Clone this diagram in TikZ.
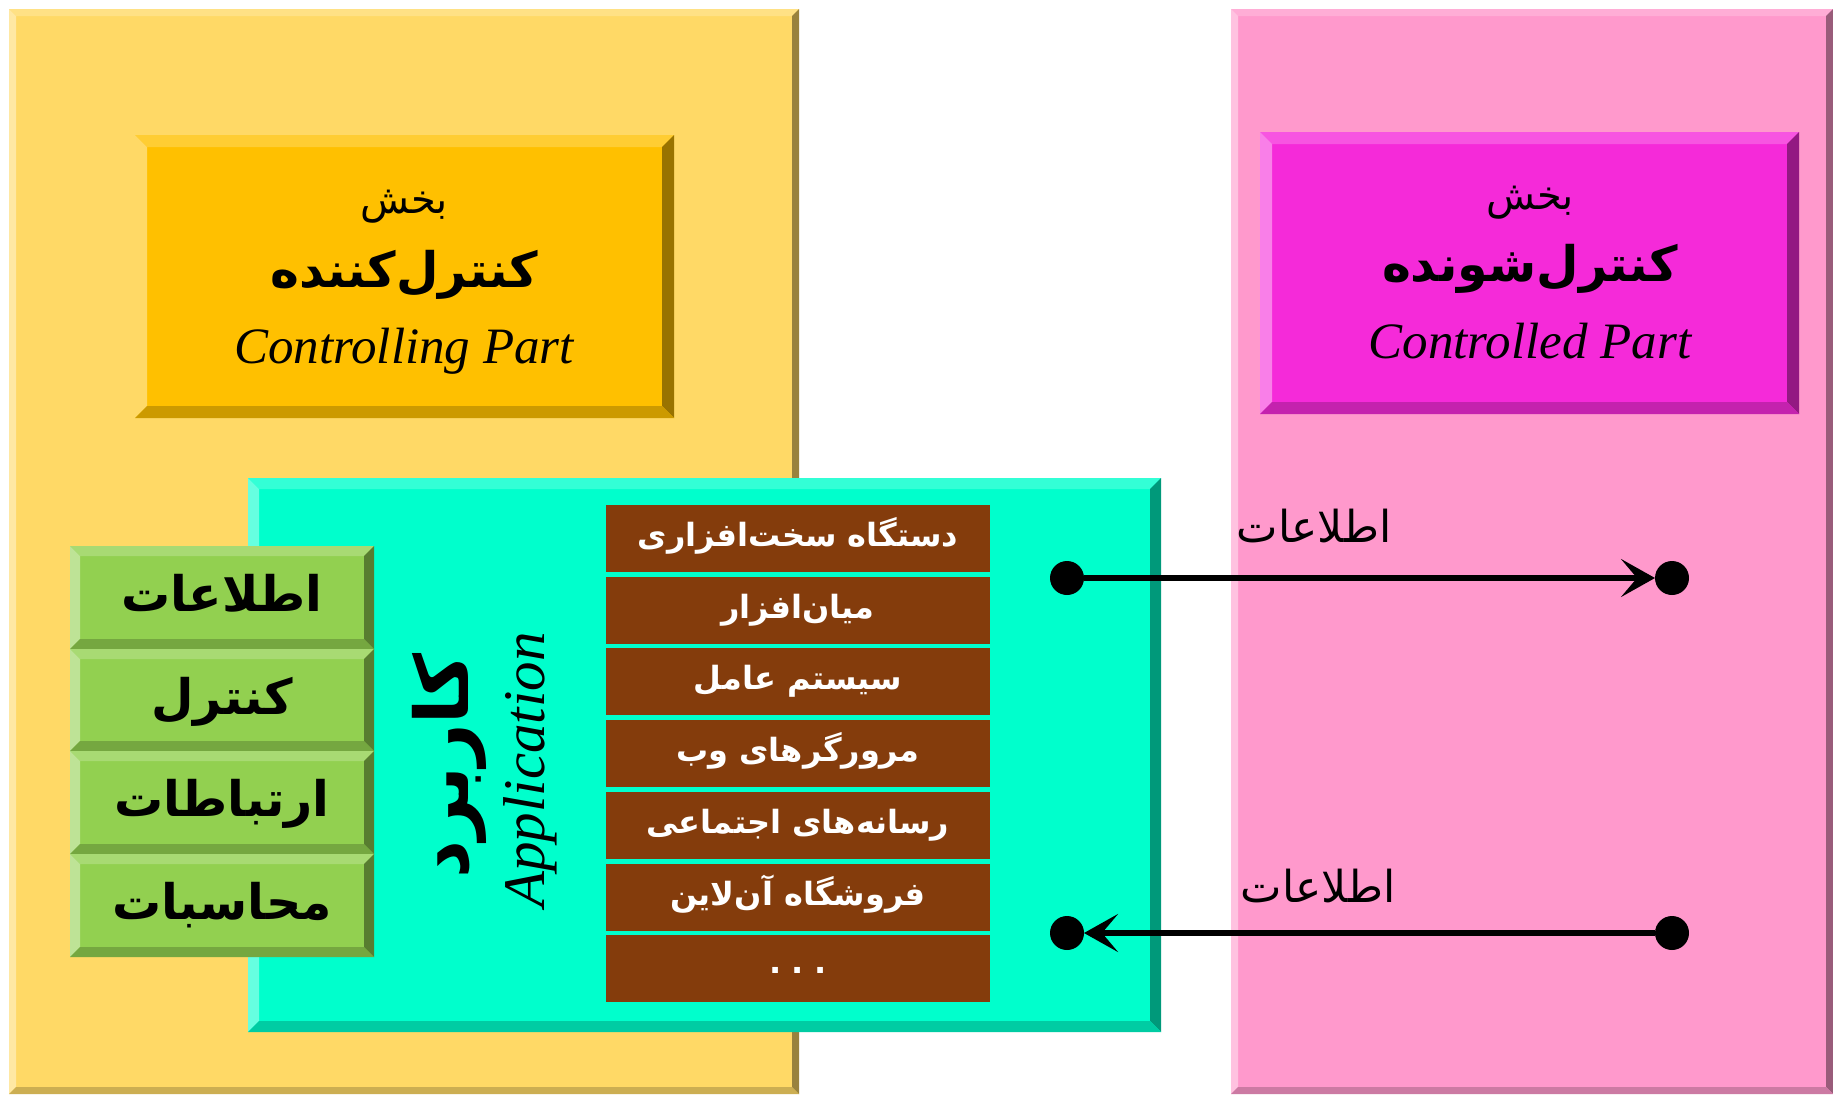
\documentclass[tikz,border=0pt]{standalone}
\usepackage{fontspec}
\setmainfont{Liberation Serif}
\newfontfamily\fa[Script=Arabic]{DejaVu Sans}
\TeXXeTstate=1
\usetikzlibrary{arrows.meta}
\definecolor{yel}{HTML}{FFD966}
\definecolor{pnk}{HTML}{FF99CC}
\definecolor{org}{HTML}{FFC000}
\definecolor{mag}{HTML}{F52AD9}
\definecolor{cyn}{HTML}{00FFCC}
\definecolor{grn}{HTML}{92D050}
\definecolor{brn}{HTML}{843C0C}
\newcommand\fsz[1]{\fontsize{#1}{#1}\selectfont}
\newcommand\bev[6]{%
  \fill[#6] (#1,#2) rectangle (#3,#4);
  \fill[#6!80!white] (#1,#2) -- (#3,#2) -- ({#3-#5},{#2+#5}) -- ({#1+#5},{#2+#5}) -- cycle;
  \fill[#6!60!white] (#1,#2) -- ({#1+#5},{#2+#5}) -- ({#1+#5},{#4-#5}) -- (#1,#4) -- cycle;
  \fill[#6!60!black] (#3,#2) -- (#3,#4) -- ({#3-#5},{#4-#5}) -- ({#3-#5},{#2+#5}) -- cycle;
  \fill[#6!80!black] (#1,#4) -- (#3,#4) -- ({#3-#5},{#4-#5}) -- ({#1+#5},{#4-#5}) -- cycle;
}
\begin{document}
\begin{tikzpicture}[x=1pt,y=-1pt,
  every node/.style={inner sep=0pt,outer sep=0pt},
  small/.style={font=\fa\fsz{40}, anchor=base},
  big/.style={font=\fa\bfseries\fsz{49}, anchor=base},
  eng/.style={font=\itshape\fsz{51}, anchor=base},
  gtxt/.style={font=\fa\bfseries\fsz{49}, anchor=base},
  btxt/.style={font=\fa\bfseries\fsz{32}, anchor=base, text=white},
  lbl/.style={font=\fa\fsz{44}, anchor=base},
  dot/.style={circle, fill=black, minimum size=34pt},
  conn/.style={line width=6pt, -{Stealth[length=34pt,width=38pt,inset=16pt]}}]
\fill[white] (0,0) rectangle (1833,1095);
\useasboundingbox (0,0) rectangle (1833,1095);
% panels
\bev{9}{9}{799}{1094}{7}{yel}
\bev{1231}{9}{1833}{1094}{7}{pnk}
% top boxes
\bev{135}{135}{674}{418}{12}{org}
\bev{1260}{132}{1799}{414}{12}{mag}
\node[small] (cb) at (404,213) {\beginR بخش\endR};
\node[big] (ct) at (404,287) {\beginR کنترل^^^^200cکننده\endR};
\node[eng] (ce) at (404,363) {Controlling Part};
\node[small] (db) at (1530,209) {\beginR بخش\endR};
\node[big] (dt) at (1530,281) {\beginR کنترل^^^^200cشونده\endR};
\node[eng] (de) at (1530,358) {Controlled Part};
% application box
\bev{248}{478}{1161}{1032}{11}{cyn}
% green boxes
\bev{70}{546}{374}{649}{10}{grn}
\bev{70}{649}{374}{751}{10}{grn}
\bev{70}{751}{374}{854}{10}{grn}
\bev{70}{854}{374}{957}{10}{grn}
\node[gtxt] (g1) at (222,611) {\beginR اطلاعات\endR};
\node[gtxt] (g2) at (222,714) {\beginR کنترل\endR};
\node[gtxt] (g3) at (222,816) {\beginR ارتباطات\endR};
\node[gtxt] (g4) at (222,919) {\beginR محاسبات\endR};
% vertical labels
\node[font=\fa\bfseries\fsz{74}, rotate=90] (ap) at (449,766) {\beginR کاربرد\endR};
\node[font=\itshape\fsz{59}, rotate=90] (ae) at (530,770) {Application};
% brown stack
\fill[brn] (606,505) rectangle (990,572);
\fill[brn] (606,577) rectangle (990,644);
\fill[brn] (606,648) rectangle (990,715);
\fill[brn] (606,720) rectangle (990,787);
\fill[brn] (606,792) rectangle (990,859);
\fill[brn] (606,864) rectangle (990,931);
\fill[brn] (606,935) rectangle (990,1002);
\node[btxt] (s1) at (798,546) {\beginR دستگاه سخت^^^^200cافزاری\endR};
\node[btxt] (s2) at (798,618) {\beginR میان^^^^200cافزار\endR};
\node[btxt] (s3) at (798,689) {\beginR سیستم عامل\endR};
\node[btxt] (s4) at (798,761) {\beginR مرورگرهای وب\endR};
\node[btxt] (s5) at (798,833) {\beginR رسانه^^^^200cهای اجتماعی\endR};
\node[btxt] (s6) at (798,905) {\beginR فروشگاه آن^^^^200cلاین\endR};
\node[btxt] (s7) at (798,973) {.\hspace{10pt}.\hspace{10pt}.};
% arrows
\node[dot] (a1) at (1067,578) {};
\node[dot] (b1) at (1672,578) {};
\node[dot] (a2) at (1067,933) {};
\node[dot] (b2) at (1672,933) {};
\draw[conn] (a1) -- (b1);
\draw[conn] (b2) -- (a2);
\node[lbl] (l1) at (1314,542) {\beginR اطلاعات\endR};
\node[lbl] (l2) at (1318,902) {\beginR اطلاعات\endR};
\end{tikzpicture}
\end{document}
